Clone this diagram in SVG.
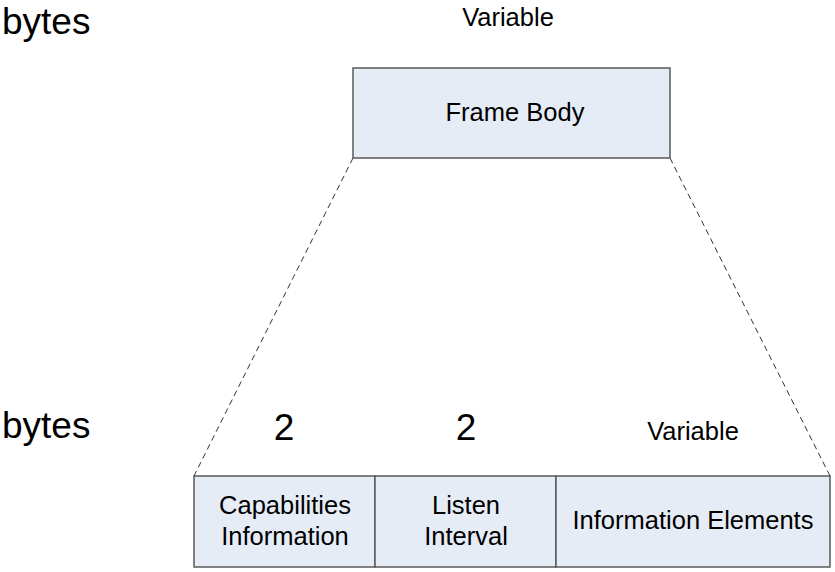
<svg xmlns="http://www.w3.org/2000/svg" width="835" height="572" viewBox="0 0 835 572">
<style>
text{font-family:"Liberation Sans",Arial,sans-serif;fill:#000}
.box{fill:#e6ecf6;stroke:#595959;stroke-width:1.5}
.lbl{font-size:25.5px;text-anchor:middle}
.dash{stroke:#333;stroke-width:1;stroke-dasharray:6,4;fill:none}
</style>
<rect width="835" height="572" fill="#fff"/>
<text x="2" y="34" font-size="37">bytes</text>
<text x="2" y="438" font-size="37">bytes</text>
<text x="508" y="26" font-size="25.5" text-anchor="middle">Variable</text>
<text x="284" y="440" font-size="37" text-anchor="middle">2</text>
<text x="466" y="440" font-size="37" text-anchor="middle">2</text>
<text x="693" y="440" font-size="25.5" text-anchor="middle">Variable</text>
<g id="connectors">
<line class="dash" x1="353" y1="158" x2="194" y2="476"/>
<line class="dash" x1="670" y1="158" x2="830" y2="476"/>
</g>
<g id="frame-body">
<rect class="box" x="353" y="68" width="317" height="90"/>
<text class="lbl" x="515" y="121">Frame Body</text>
</g>
<g id="capabilities">
<rect class="box" x="194" y="476" width="181" height="91"/>
<text class="lbl" x="285" y="514">Capabilities</text>
<text class="lbl" x="285" y="545">Information</text>
</g>
<g id="listen-interval">
<rect class="box" x="375" y="476" width="181" height="91"/>
<text class="lbl" x="466" y="514">Listen</text>
<text class="lbl" x="466" y="545">Interval</text>
</g>
<g id="information-elements">
<rect class="box" x="556" y="476" width="274" height="91"/>
<text class="lbl" x="693" y="529">Information Elements</text>
</g>
</svg>
